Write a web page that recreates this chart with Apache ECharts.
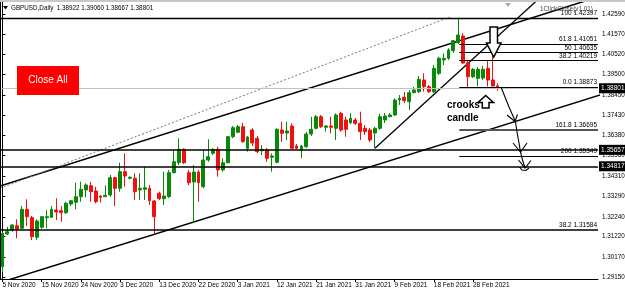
<!DOCTYPE html>
<html>
<head>
<meta charset="utf-8">
<script src="https://cdn.jsdelivr.net/npm/echarts@6.0.0/dist/echarts.min.js"></script>
<style>
html,body{margin:0;padding:0;background:#fff;}
#main{width:625px;height:293px;}
</style>
</head>
<body>
<div id="main"></div>
<script>
// GBPUSD daily, 5 Nov 2020 - 5 Mar 2021
var dates = ['5 Nov 2020','6 Nov 2020','8 Nov 2020','9 Nov 2020','10 Nov 2020','11 Nov 2020','12 Nov 2020','13 Nov 2020','15 Nov 2020','16 Nov 2020','17 Nov 2020','18 Nov 2020','19 Nov 2020','20 Nov 2020','22 Nov 2020','23 Nov 2020','24 Nov 2020','25 Nov 2020','26 Nov 2020','27 Nov 2020','29 Nov 2020','30 Nov 2020',
  '1 Dec 2020','2 Dec 2020','3 Dec 2020','4 Dec 2020','6 Dec 2020','7 Dec 2020','8 Dec 2020','9 Dec 2020','10 Dec 2020','11 Dec 2020','13 Dec 2020','14 Dec 2020','15 Dec 2020','16 Dec 2020','17 Dec 2020','18 Dec 2020','20 Dec 2020','21 Dec 2020','22 Dec 2020','23 Dec 2020','24 Dec 2020','27 Dec 2020','28 Dec 2020','29 Dec 2020','30 Dec 2020','31 Dec 2020',
  '3 Jan 2021','4 Jan 2021','5 Jan 2021','6 Jan 2021','7 Jan 2021','8 Jan 2021','10 Jan 2021','11 Jan 2021','12 Jan 2021','13 Jan 2021','14 Jan 2021','15 Jan 2021','17 Jan 2021','18 Jan 2021','19 Jan 2021','20 Jan 2021','21 Jan 2021','22 Jan 2021','24 Jan 2021','25 Jan 2021','26 Jan 2021','27 Jan 2021','28 Jan 2021','29 Jan 2021','31 Jan 2021',
  '1 Feb 2021','2 Feb 2021','3 Feb 2021','4 Feb 2021','5 Feb 2021','7 Feb 2021','8 Feb 2021','9 Feb 2021','10 Feb 2021','11 Feb 2021','12 Feb 2021','14 Feb 2021','15 Feb 2021','16 Feb 2021','17 Feb 2021','18 Feb 2021','19 Feb 2021','21 Feb 2021','22 Feb 2021','23 Feb 2021','24 Feb 2021','25 Feb 2021','26 Feb 2021','28 Feb 2021',
  '1 Mar 2021','2 Mar 2021','3 Mar 2021','4 Mar 2021','5 Mar 2021'];

var opens  = [1.29691,1.31361,1.31565,1.31784,1.31651,1.32621,1.32193,1.31192,1.31702,1.32193,1.32213,1.32585,1.32550,1.32448,1.32892,1.32979,1.33265,1.33607,1.33826,1.33556,1.33300,1.33265,
  1.33351,1.34234,1.33693,1.34541,1.34204,1.34204,1.33607,1.33642,1.33693,1.33045,1.33438,1.33162,1.33265,1.34490,1.35000,1.35684,1.34490,1.34015,1.34525,1.33775,1.35138,1.35480,1.35684,1.34628,1.35000,1.36327,
  1.36552,1.36838,1.35735,1.36670,1.36246,1.35613,1.35649,1.35276,1.35021,1.36670,1.36516,1.36874,1.35853,1.35649,1.35817,1.36465,1.36756,1.37349,1.36807,1.36874,1.36756,1.37522,1.37180,1.37042,1.37180,
  1.37011,1.36756,1.36670,1.36516,1.36756,1.37180,1.37349,1.37435,1.38201,1.38339,1.38114,1.38574,1.38625,1.39222,1.38880,1.38625,1.39564,1.40243,1.40330,1.40718,1.41126,1.41468,1.40105,1.39390,
  1.39309,1.39324,1.39819,1.39222,1.38922];
var closes = [1.31396,1.31478,1.31820,1.31616,1.32621,1.32244,1.31223,1.32024,1.32244,1.32244,1.32621,1.32483,1.32448,1.32927,1.33060,1.33265,1.33642,1.33862,1.33520,1.33009,1.33234,1.33336,
  1.34234,1.33693,1.34541,1.34321,1.34255,1.33520,1.33693,1.33724,1.33060,1.32244,1.33162,1.33300,1.34490,1.35051,1.35684,1.35000,1.33979,1.34525,1.33979,1.35138,1.35307,1.35684,1.34628,1.35000,1.36327,1.36787,
  1.36838,1.36072,1.36312,1.36006,1.35562,1.35684,1.35225,1.35342,1.36705,1.36501,1.36618,1.35735,1.35735,1.35853,1.36465,1.36705,1.37349,1.36838,1.36874,1.36807,1.37435,1.36670,1.36705,1.37267,1.37011,
  1.36583,1.36583,1.36159,1.36756,1.37349,1.37384,1.37435,1.38201,1.38288,1.38166,1.38574,1.38712,1.39258,1.38880,1.38625,1.39819,1.40330,1.40330,1.40754,1.41228,1.41519,1.40090,1.39390,1.39768,
  1.39768,1.39768,1.39222,1.38916,1.38801];
var highs  = [1.31462,1.31733,1.31856,1.32111,1.32790,1.33132,1.32279,1.32111,1.32279,1.32585,1.32790,1.33183,1.32790,1.33008,1.33096,1.33979,1.34030,1.33949,1.34030,1.33775,1.33351,1.33846,
  1.34372,1.34286,1.35000,1.35480,1.34306,1.34459,1.34459,1.34796,1.33862,1.33096,1.33520,1.34541,1.34628,1.35649,1.36245,1.35735,1.34628,1.34883,1.34628,1.35649,1.36195,1.35735,1.35817,1.35225,1.36363,1.36874,
  1.36925,1.37042,1.36363,1.36756,1.36363,1.35904,1.35751,1.35480,1.36756,1.37093,1.37093,1.37012,1.35955,1.35904,1.36567,1.37349,1.37435,1.37435,1.36925,1.37349,1.37522,1.37604,1.37349,1.37522,1.37282,
  1.37604,1.36925,1.36772,1.36838,1.37486,1.37537,1.37537,1.38288,1.38456,1.38609,1.38712,1.38865,1.39426,1.39564,1.38967,1.39988,1.40412,1.40585,1.40840,1.41264,1.42397,1.41621,1.40243,1.39835,
  1.39886,1.39937,1.40243,1.40667,1.39060];
var lows   = [1.29420,1.31309,1.31478,1.31141,1.31616,1.31769,1.31054,1.31054,1.31631,1.31651,1.32177,1.32075,1.31988,1.32381,1.32790,1.32621,1.33009,1.33234,1.33009,1.32927,1.32958,1.33249,
  1.33265,1.32790,1.33520,1.33775,1.34153,1.33096,1.33096,1.33096,1.32841,1.31345,1.33096,1.32841,1.33198,1.34459,1.34883,1.34934,1.33862,1.31922,1.33009,1.33693,1.35051,1.35393,1.34286,1.34541,1.34969,1.36245,
  1.36501,1.36021,1.35562,1.35853,1.35495,1.35393,1.35051,1.34541,1.34969,1.36072,1.36159,1.35684,1.35700,1.35225,1.35751,1.36363,1.36705,1.36772,1.36583,1.36501,1.36159,1.36583,1.36327,1.36976,1.36925,
  1.36159,1.36414,1.36057,1.35735,1.36670,1.37027,1.37333,1.37384,1.37946,1.38048,1.37691,1.38558,1.38558,1.38625,1.38558,1.38558,1.39477,1.39988,1.40243,1.40600,1.41060,1.40039,1.38873,1.39324,
  1.38900,1.39222,1.38890,1.38880,1.38667];

// empty bars of chart shift on the right
var shiftBars = 20;

// price scale labels
var priceTicks = [1.29150,1.30170,1.31220,1.32240,1.33290,1.34310,1.35360,1.36380,1.37430,1.38450,1.39500,1.40520,1.41570,1.42590];

// drawn objects, [bar index, price]
var upperChannel = [[-0.5, 1.33811], [122, 1.43501]];
var lowerChannel = [[-5, 1.28529], [122, 1.38464]];
var dottedLine   = [[-0.5, 1.33694], [91.3, 1.42438]];
var steepTrend   = [[76, 1.35735], [112, 1.43957]];

// horizontal levels
var fibHigh = 1.42397;
var fibLevels = [['61.8', 1.41051], ['50', 1.40635], ['38.2', 1.40219], ['0.0', 1.38873], ['161.8', 1.36695], ['200', 1.35349]];
var lowerFib = ['38.2', 1.31584];
var boxLevels = [1.35657, 1.34817];
var lastPrice = 1.38801;
var titleOHLC = [1.38922, 1.39060, 1.38667, 1.38801];

var FONT = 'Liberation Sans';
var nBars = dates.length + shiftBars;
var xMin = -0.5, xMax = nBars - 0.5;
var fibStart = 93.2;

var categories = dates.slice();
for (var i = 0; i < shiftBars; i++) categories.push('shift' + i);

var candleData = [];
for (var i = 0; i < dates.length; i++) {
  candleData.push([opens[i], closes[i], lows[i], highs[i]]);
}

function showDate(index) {
  return index % 8 === 0 && index < dates.length;
}

function seg(price, x1, x2, style, label) {
  return [{coord: [x1, price], lineStyle: style, label: label}, {coord: [x2, price]}];
}

var fibLabel = function (txt) {
  return {show: true, position: 'insideEndTop', formatter: txt, color: '#000',
          fontSize: 6.5, fontFamily: FONT, distance: [1, 1]};
};
var boxLabel = function (txt) {
  return {show: true, position: 'end', formatter: txt, color: '#fff', backgroundColor: '#000',
          fontSize: 6.5, fontFamily: FONT, distance: 1, padding: [2, 3, 1, 2]};
};

var levelLines = [];
levelLines.push(seg(lastPrice, xMin, xMax, {color: '#c0c0c0', width: 1, type: 'solid'}, boxLabel(lastPrice.toFixed(5))));
levelLines.push(seg(fibHigh, xMin, xMax, {color: '#000', width: 1.3, type: 'solid'}, fibLabel('100 ' + fibHigh.toFixed(5))));
fibLevels.forEach(function (f) {
  var w = f[0] === '161.8' ? 2 : 1.2;
  var c = f[0] === '161.8' ? '#555' : '#000';
  levelLines.push(seg(f[1], fibStart, xMax, {color: c, width: w, type: 'solid'}, fibLabel(f[0] + ' ' + f[1].toFixed(5))));
});
levelLines.push(seg(lowerFib[1], xMin, xMax, {color: '#000', width: 1.5, type: 'solid'}, fibLabel(lowerFib[0] + ' ' + lowerFib[1].toFixed(5))));
boxLevels.forEach(function (p) {
  levelLines.push(seg(p, xMin, xMax, {color: '#000', width: 1.5, type: 'solid'}, boxLabel(p.toFixed(5))));
});

function trend(name, pts, style) {
  return {name: name, type: 'line', xAxisIndex: 1, yAxisIndex: 0, data: pts, symbol: 'none',
          silent: true, clip: true, lineStyle: style, z: 3};
}

var chart = echarts.init(document.getElementById('main'), null, {renderer: 'canvas'});
chart.setOption({
  animation: false,
  backgroundColor: '#fff',
  grid: {left: 0, right: 27, top: 2, bottom: 14, show: false, outerBoundsMode: 'none', containLabel: false},
  xAxis: [{
    type: 'category', data: categories, boundaryGap: true,
    axisLine: {show: true, lineStyle: {color: '#000', width: 1}},
    axisTick: {show: true, alignWithLabel: true, length: 3, interval: showDate, lineStyle: {color: '#000'}},
    axisLabel: {interval: showDate, align: 'left', margin: 3, fontSize: 6.5, fontFamily: FONT, color: '#000',
                formatter: function (v) { return v; }},
    splitLine: {show: false}
  }, {
    type: 'value', min: xMin, max: xMax, show: false
  }],
  yAxis: {
    type: 'value', position: 'right', min: 1.29063, max: 1.43204, scale: true,
    axisLine: {show: true, lineStyle: {color: '#000', width: 1}},
    axisTick: {show: true, length: 3, customValues: priceTicks, lineStyle: {color: '#000'}},
    axisLabel: {customValues: priceTicks, margin: 4, fontSize: 6.3, fontFamily: FONT, color: '#000',
                formatter: function (v) { return v.toFixed(5); }},
    splitLine: {show: false}
  },
  series: [
    {
      name: 'GBPUSD', type: 'candlestick', data: candleData, barWidth: 3.4, z: 4,
      itemStyle: {color: '#088a08', color0: '#f01010', borderColor: '#088a08', borderColor0: '#f01010', borderWidth: 1}
    },
    trend('upper', upperChannel, {color: '#000', width: 1.5}),
    trend('lower', lowerChannel, {color: '#000', width: 1.5}),
    trend('steep', steepTrend, {color: '#000', width: 1.3}),
    trend('dotted', dottedLine, {color: '#777', width: 1, type: [2, 2]}),
    {
      name: 'levels', type: 'line', xAxisIndex: 1, yAxisIndex: 0, data: [], silent: true, z: 2,
      markLine: {silent: true, symbol: ['none', 'none'], animation: false, data: levelLines}
    }
  ],
  graphic: [
    {type: 'rect', shape: {x: 0, y: 0, width: 625, height: 2}, style: {fill: '#c8c8c8'}, z: 100},
    {type: 'line', shape: {x1: 0.5, y1: 2, x2: 0.5, y2: 279}, style: {stroke: '#000', lineWidth: 1}, z: 100},
    {type: 'polygon', shape: {points: [[3, 6], [8, 6], [5.5, 9.5]]}, style: {fill: '#000'}, z: 100},
    {type: 'text', x: 11, y: 8, style: {text: 'GBPUSD,Daily  ' + titleOHLC.map(function (v) { return v.toFixed(5); }).join(' '),
      font: '6.3px ' + FONT, fill: '#000', verticalAlign: 'middle'}, z: 100},
    {type: 'polygon', shape: {points: [[505, 3], [511, 3], [508, 7]]}, style: {fill: '#aaa'}, z: 100},
    {type: 'text', x: 540, y: 9, style: {text: '1ClickClose(v1.01)', font: '6.3px ' + FONT, fill: '#444', verticalAlign: 'middle'}, z: 100},
    // Close All button
    {type: 'rect', shape: {x: 17, y: 66, width: 62, height: 29}, style: {fill: '#ff0000'}, z: 100},
    {type: 'text', x: 48, y: 80.5, style: {text: 'Close All', font: '10px ' + FONT, fill: '#fff', align: 'center', verticalAlign: 'middle'}, z: 101},
    // hollow arrows
    {type: 'polygon', shape: {points: [[490, 27], [497.5, 27], [497.5, 43], [501, 43], [493.7, 57], [486.5, 43], [490, 43]]},
      style: {fill: '#fff', stroke: '#000', lineWidth: 1.5}, z: 100},
    {type: 'polygon', shape: {points: [[485.7, 95.5], [493.5, 102.5], [489, 102.5], [489, 108], [482.3, 108], [482.3, 102.5], [478, 102.5]]},
      style: {fill: '#fff', stroke: '#000', lineWidth: 1.5}, z: 100},
    {type: 'text', x: 447, y: 99, style: {text: 'crooks\ncandle', font: 'bold 10px ' + FONT, fill: '#000', lineHeight: 13}, z: 100},
    // hand drawn projection arrow
    {type: 'polyline', shape: {points: [[501, 87], [505, 97], [509, 107], [513, 116], [515.5, 122], [517, 132], [519, 143], [520.5, 152], [522.5, 160], [525, 168]]},
      style: {stroke: '#000', lineWidth: 1.1, fill: null}, z: 100},
    {type: 'polyline', shape: {points: [[507, 115], [515, 121.5], [517.5, 114.5]]}, style: {stroke: '#000', lineWidth: 1.1, fill: null}, z: 100},
    {type: 'polyline', shape: {points: [[513, 143], [520.5, 152], [527, 143]]}, style: {stroke: '#000', lineWidth: 1.1, fill: null}, z: 100},
    {type: 'polyline', shape: {points: [[518.5, 160], [525, 168], [531, 160.5]]}, style: {stroke: '#000', lineWidth: 1.1, fill: null}, z: 100},
    {type: 'polyline', shape: {points: [[519.5, 167], [522, 170], [526, 170.5], [529, 168]]}, style: {stroke: '#000', lineWidth: 1.1, fill: null}, z: 100}
  ]
});
</script>
</body>
</html>
